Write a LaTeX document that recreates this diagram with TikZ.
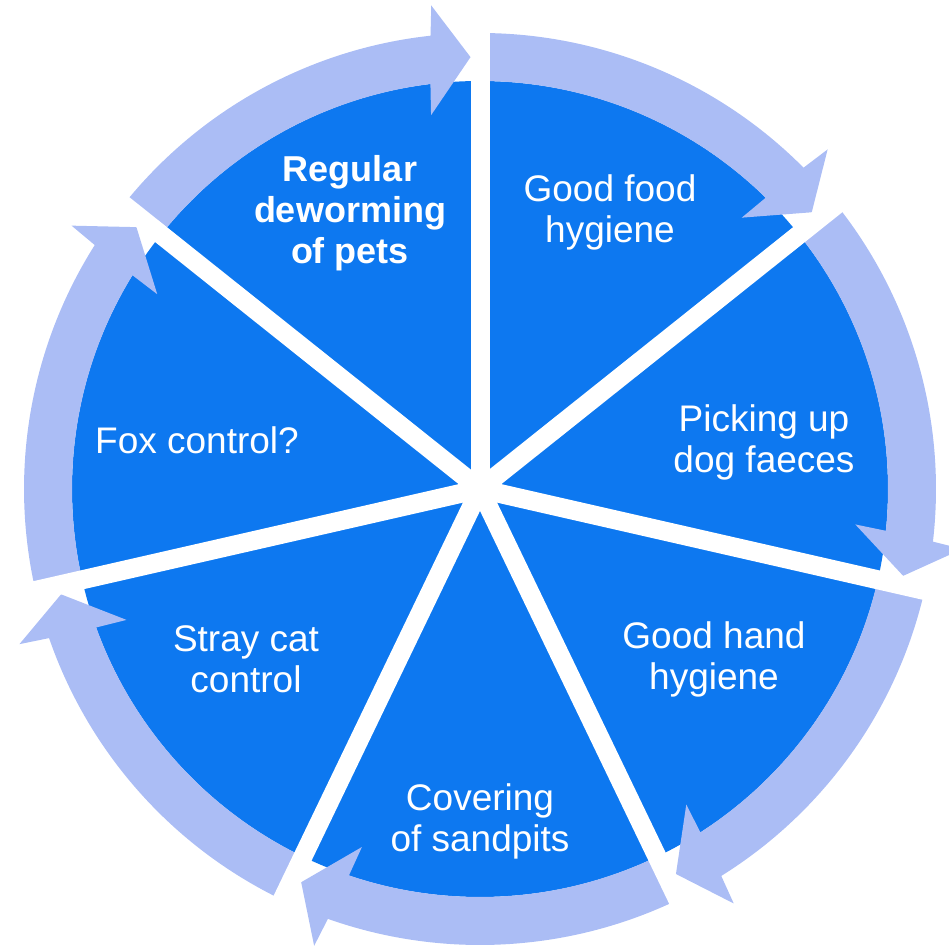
\documentclass[tikz,border=0pt]{standalone}
\usepackage{fontspec}
\setmainfont{Liberation Sans}
\definecolor{pieblue}{RGB}{13,120,240}
\definecolor{ringblue}{RGB}{171,189,245}
\tikzset{
  lbl/.style={text=white, align=center, font=\fontsize{37}{41}\selectfont, inner sep=0pt},
  lblb/.style={lbl, font=\fontsize{36}{41}\selectfont\bfseries},
  gapbar/.style={white, line width=19pt},
}
\begin{document}
\begin{tikzpicture}[x=1pt,y=1pt]
\useasboundingbox (0,0) rectangle (949,945);
\begin{scope}[shift={(480,456)}]
  \fill[pieblue] (0,0) circle[radius=408pt];
  \foreach \i in {0,...,6}{
    \pgfmathsetmacro\s{90-\i*360/7}
    \pgfmathsetmacro\T{90-(\i+1)*360/7+1.26}
    \fill[ringblue] (\s:456pt) arc[start angle=\s, end angle=\T+4.97, radius=456pt]
      -- (\T+4.5:486pt) -- (\T:432pt) -- (\T+6.2:377pt) -- (\T+5.72:408pt)
      arc[start angle=\T+5.72, end angle=\s, radius=408pt] -- cycle;
  }
  \foreach \i in {0,...,6}{
    \pgfmathsetmacro\g{90-\i*360/7}
    \draw[gapbar] (0,0) -- (\g:462pt);
  }
\end{scope}
\node[lblb] (deworm) at (350,732) {Regular\\deworming\\of pets};
\node[lbl] (food) at (610,733) {Good food\\hygiene};
\node[lbl] (faeces) at (764,503) {Picking up\\dog faeces};
\node[lbl] (hand) at (714,286) {Good hand\\hygiene};
\node[lbl] (sand) at (480,124) {Covering\\of sandpits};
\node[lbl] (cat) at (246,286) {Stray cat\\control};
\node[lbl] (fox) at (197,505) {Fox control?};
\end{tikzpicture}
\end{document}
